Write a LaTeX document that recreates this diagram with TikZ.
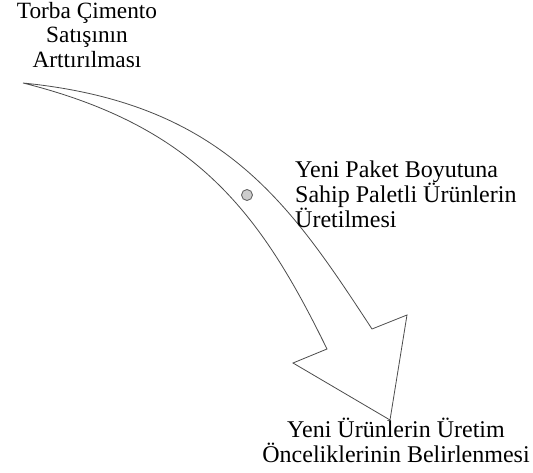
\documentclass[tikz,border=0pt]{standalone}
\usepackage{fontspec}
\setmainfont{Liberation Serif}
\begin{document}
\begin{tikzpicture}[x=1pt,y=-1pt,
  arrowline/.style={draw=black!70, line width=0.8pt, line join=miter},
  label/.style={inner sep=0pt, font=\fontsize{24}{25}\selectfont, text=black}]
\useasboundingbox (0,0) rectangle (533,473);
% curved block arrow
\coordinate (tail) at (23,83);
\coordinate (outer) at (372,329);
\coordinate (barbR) at (407,315);
\coordinate (tip) at (390,420);
\coordinate (barbL) at (293,363);
\coordinate (inner) at (327,349);
\path[arrowline, fill=white]
  (tail) .. controls (223,103) and (289.5,203) .. (outer)
  -- (barbR) -- (tip) -- (barbL) -- (inner)
  .. controls (261.1,214.3) and (197.6,126.7) .. (tail) -- cycle;
% marker dot on the arrow body
\node[circle, draw=black!60, fill=black!20, line width=0.9pt, minimum size=11pt, inner sep=0pt] (dot) at (247,195) {};
% labels
\node[label, font=\fontsize{23.3}{24.5}\selectfont, anchor=north, align=center] (start) at (87,2) {Torba Çimento\\Satışının\\Arttırılması};
\node[label, anchor=north west, align=left] (mid) at (295,161) {Yeni Paket Boyutuna\\Sahip Paletli Ürünlerin\\Üretilmesi};
\node[label, anchor=north, align=center] (goal) at (396,418) {Yeni Ürünlerin Üretim\\Önceliklerinin Belirlenmesi};
\end{tikzpicture}
\end{document}
